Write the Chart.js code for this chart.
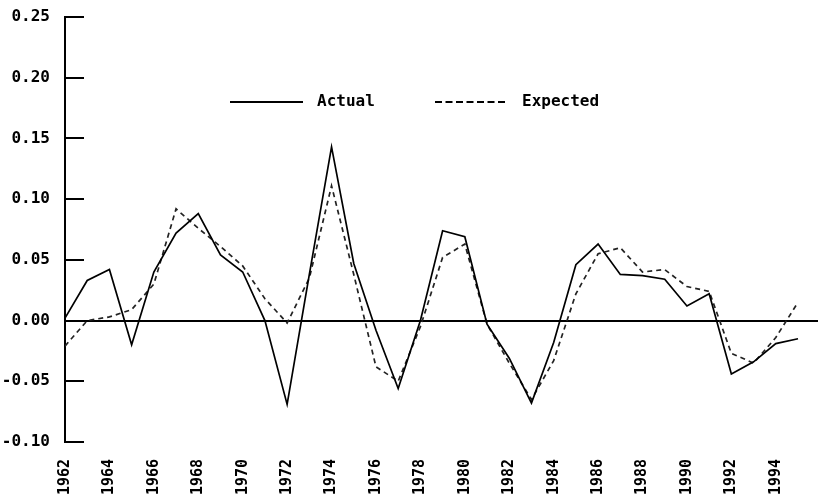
<!DOCTYPE html>
<html>
<head>
<meta charset="utf-8">
<script src="https://cdn.jsdelivr.net/npm/chart.js@4"></script>
<style>
  html, body { margin: 0; padding: 0; background: #fff; }
  #wrap { width: 818px; height: 503px; }
</style>
</head>
<body>
<div id="wrap"><canvas id="chartActual"></canvas></div>
<script>
// years on the x axis
const years = [1962, 1963, 1964, 1965, 1966, 1967, 1968, 1969, 1970, 1971, 1972,
  1973, 1974, 1975, 1976, 1977, 1978, 1979, 1980, 1981, 1982, 1983, 1984, 1985,
  1986, 1987, 1988, 1989, 1990, 1991, 1992, 1993, 1994, 1995];

const actual = [0.002, 0.033, 0.042, -0.020, 0.040, 0.072, 0.088, 0.054, 0.040, 0.000,
  -0.069, 0.038, 0.143, 0.047, -0.008, -0.056, 0.000, 0.074, 0.069, -0.003, -0.031,
  -0.068, -0.018, 0.046, 0.063, 0.038, 0.037, 0.034, 0.012, 0.022, -0.044, -0.034,
  -0.019, -0.015];

const expected = [-0.021, 0.000, 0.003, 0.009, 0.030, 0.092, 0.076, 0.061, 0.045, 0.018,
  -0.002, 0.035, 0.111, 0.038, -0.038, -0.050, -0.005, 0.052, 0.063, -0.003, -0.035,
  -0.065, -0.033, 0.022, 0.055, 0.060, 0.040, 0.042, 0.028, 0.024, -0.027, -0.035,
  -0.014, 0.015];

const xTickYears = [1962, 1964, 1966, 1968, 1970, 1972, 1974, 1976, 1978, 1980,
  1982, 1984, 1986, 1988, 1990, 1992, 1994];
const yTicks = [-0.10, -0.05, 0.00, 0.05, 0.10, 0.15, 0.20, 0.25];

const FONT = "'DejaVu Sans Mono', monospace";

// ticks on the inside of the y axis
const innerTicks = {
  id: 'innerTicks',
  afterDraw(chart) {
    const ctx = chart.ctx;
    const y = chart.scales.y;
    const left = chart.chartArea.left;
    ctx.save();
    ctx.strokeStyle = '#000';
    ctx.lineWidth = 2;
    y.ticks.forEach(t => {
      const py = Math.round(y.getPixelForValue(t.value));
      ctx.beginPath();
      ctx.moveTo(left, py);
      ctx.lineTo(left + 19, py);
      ctx.stroke();
    });
    ctx.restore();
  }
};

// legend drawn inside the plot
const lineLegend = {
  id: 'lineLegend',
  afterDraw(chart) {
    const ctx = chart.ctx;
    const items = [
      { ds: chart.data.datasets[0], x: 230 },
      { ds: chart.data.datasets[1], x: 435 }
    ];
    const py = 102;
    ctx.save();
    ctx.font = 'bold 16px ' + FONT;
    ctx.fillStyle = '#000';
    ctx.textBaseline = 'middle';
    items.forEach(it => {
      ctx.strokeStyle = '#000';
      ctx.lineWidth = 2;
      ctx.setLineDash(it.ds.borderDash ? [7, 3.5] : []);
      ctx.beginPath();
      ctx.moveTo(it.x, py);
      ctx.lineTo(it.x + 73, py);
      ctx.stroke();
      ctx.setLineDash([]);
      ctx.fillText(it.ds.label, it.x + 87, py);
    });
    ctx.restore();
  }
};

const ctxActual = document.getElementById('chartActual').getContext('2d');

new Chart(ctxActual, {
  type: 'line',
  data: {
    labels: years,
    datasets: [{
      label: 'Actual',
      data: years.map((yr, i) => ({ x: yr, y: actual[i] })),
      borderColor: '#000',
      borderWidth: 1.7,
      pointRadius: 0,
      tension: 0
    }, {
      label: 'Expected',
      data: years.map((yr, i) => ({ x: yr, y: expected[i] })),
      borderColor: '#222',
      borderWidth: 1.7,
      borderDash: [5, 4],
      pointRadius: 0,
      tension: 0
    }]
  },
  options: {
    responsive: true,
    maintainAspectRatio: false,
    animation: false,
    layout: { padding: 0 },
    plugins: {
      legend: { display: false },
      tooltip: { enabled: false }
    },
    scales: {
      x: {
        type: 'linear',
        min: 1962,
        max: 1995.9,
        afterBuildTicks: axis => { axis.ticks = xTickYears.map(v => ({ value: v })); },
        afterFit: axis => { axis.height = 61; },
        grid: { display: false },
        border: { display: false },
        ticks: {
          autoSkip: false,
          minRotation: 90,
          maxRotation: 90,
          padding: 9,
          color: '#000',
          font: { family: FONT, size: 15, weight: 'bold' },
          callback: v => String(v)
        }
      },
      y: {
        min: -0.10,
        max: 0.25,
        afterBuildTicks: axis => { axis.ticks = yTicks.map(v => ({ value: v })); },
        afterFit: axis => {
          axis.width = 65;
          axis.paddingTop = 17;
          axis.paddingBottom = 0;
        },
        grid: {
          drawTicks: false,
          lineWidth: 2,
          color: c => (Math.abs(c.tick.value) < 1e-9 ? '#000' : 'rgba(0,0,0,0)')
        },
        border: { display: true, color: '#000', width: 2 },
        ticks: {
          padding: 15,
          color: '#000',
          font: { family: FONT, size: 16, weight: 'bold' },
          callback: v => v.toFixed(2)
        }
      }
    }
  },
  plugins: [innerTicks, lineLegend]
});
</script>
</body>
</html>
